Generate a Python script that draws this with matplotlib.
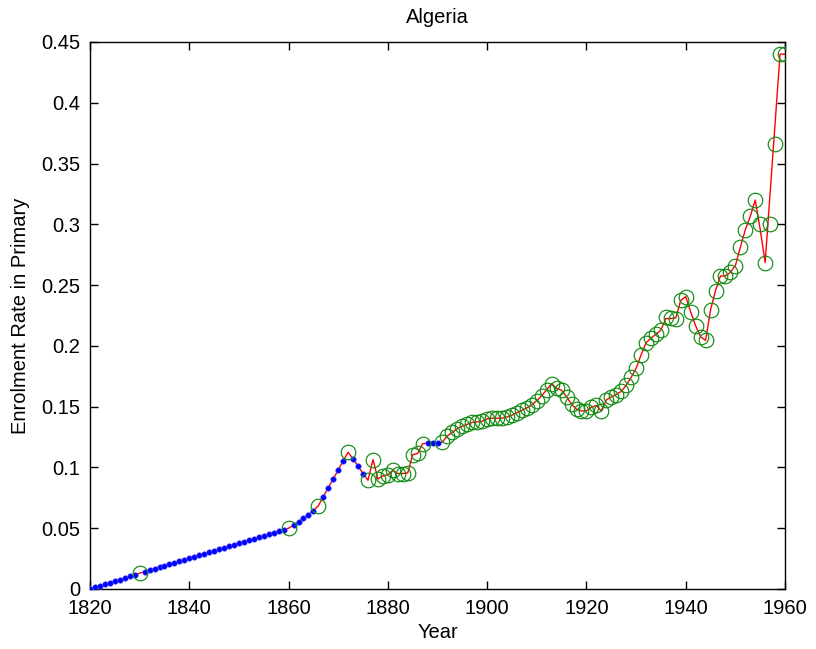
import matplotlib
matplotlib.use("Agg")
import matplotlib.pyplot as plt
import numpy as np

plt.rcParams['font.family'] = ['Liberation Sans', 'DejaVu Sans']

title = "Algeria"
xlabel = "Year"
ylabel = "Enrolment Rate in Primary"

years = list(range(1820, 1961))

# Full (interpolated) series drawn as the red line
rate_line = [
    0.0000, 0.0013, 0.0026, 0.0039, 0.0052, 0.0065, 0.0078, 0.0091, 0.0104, 0.0117,
    0.0130, 0.0142, 0.0155, 0.0167, 0.0179, 0.0191, 0.0204, 0.0216, 0.0228, 0.0241,
    0.0253, 0.0265, 0.0278, 0.0290, 0.0302, 0.0314, 0.0327, 0.0339, 0.0351, 0.0364,
    0.0376, 0.0388, 0.0401, 0.0413, 0.0425, 0.0437, 0.0450, 0.0462, 0.0474, 0.0487,
    0.0500, 0.0525, 0.0553, 0.0582, 0.0612, 0.0645, 0.0685, 0.0760, 0.0835, 0.0905,
    0.0980, 0.1055, 0.1125, 0.1070, 0.1010, 0.0950, 0.0895, 0.1065, 0.0905, 0.0930,
    0.0940, 0.0975, 0.0950, 0.0950, 0.0955, 0.1105, 0.1115, 0.1195, 0.1200, 0.1200,
    0.1200, 0.1210, 0.1260, 0.1290, 0.1320, 0.1340, 0.1355, 0.1370, 0.1375, 0.1380,
    0.1400, 0.1405, 0.1405, 0.1405, 0.1415, 0.1430, 0.1450, 0.1470, 0.1490, 0.1515,
    0.1550, 0.1590, 0.1640, 0.1690, 0.1650, 0.1635, 0.1580, 0.1520, 0.1480, 0.1465,
    0.1465, 0.1495, 0.1510, 0.1465, 0.1555, 0.1580, 0.1600, 0.1625, 0.1675, 0.1740,
    0.1815, 0.1925, 0.2025, 0.2065, 0.2095, 0.2130, 0.2225, 0.2225, 0.2230, 0.2375,
    0.2405, 0.2280, 0.2165, 0.2075, 0.2045, 0.2295, 0.2455, 0.2575, 0.2575, 0.2605,
    0.2660, 0.2810, 0.2955, 0.3065, 0.3200, 0.2960, 0.2685, 0.3255, 0.3830, 0.4400,
    0.4400,
]

# Observed data points (green circles)
obs_years = [1830, 1860, 1866, 1872] + list(range(1876, 1888)) + list(range(1891, 1961))
obs_rate = [
    0.0130, 0.0500, 0.0685, 0.1125,
    0.0895, 0.1065, 0.0905, 0.0930, 0.0940, 0.0975, 0.0950, 0.0950, 0.0955, 0.1105,
    0.1115, 0.1195,
    0.1210, 0.1260, 0.1290, 0.1320, 0.1340, 0.1355, 0.1370, 0.1375, 0.1380, 0.1400,
    0.1405, 0.1405, 0.1405, 0.1415, 0.1430, 0.1450, 0.1470, 0.1490, 0.1515, 0.1550,
    0.1590, 0.1640, 0.1690, 0.1650, 0.1635, 0.1580, 0.1520, 0.1480, 0.1465, 0.1465,
    0.1495, 0.1510, 0.1465, 0.1555, 0.1580, 0.1600, 0.1625, 0.1675, 0.1740, 0.1815,
    0.1925, 0.2025, 0.2065, 0.2095, 0.2130, 0.2240, 0.2230, 0.2225, 0.2375, 0.2405,
    0.2280, 0.2165, 0.2075, 0.2045, 0.2295, 0.2455, 0.2575, 0.2575, 0.2605, 0.2660,
    0.2810, 0.2955, 0.3065, 0.3200, 0.3000, 0.2685, 0.3000, 0.3660, 0.4400, 0.4400,
]

xticks = [1820, 1840, 1860, 1880, 1900, 1920, 1940, 1960]
yticks = [0, 0.05, 0.1, 0.15, 0.2, 0.25, 0.3, 0.35, 0.4, 0.45]
ytick_labels = ["0", "0.05", "0.1", "0.15", "0.2", "0.25", "0.3", "0.35", "0.4", "0.45"]

fig = plt.figure(figsize=(8.16, 6.49), dpi=100)
ax = fig.add_axes([90 / 816, 60 / 649, 695 / 816, 547 / 649])

obs_set = set(obs_years)
interp_idx = [i for i, y in enumerate(years) if y not in obs_set]
interp_x = [years[i] for i in interp_idx]
interp_y = [rate_line[i] for i in interp_idx]

ax.plot(years, rate_line, color='red', linewidth=1.0, zorder=2)
ax.plot(interp_x, interp_y, linestyle='none', marker='o', markersize=4.0,
        markerfacecolor='blue', markeredgecolor='#5a5aff', markeredgewidth=0.4, zorder=3)
ax.plot(obs_years, obs_rate, linestyle='none', marker='o', markersize=10.5,
        markerfacecolor='none', markeredgecolor='#118a11', markeredgewidth=0.85, zorder=4)

ax.set_xlim(1820, 1960)
ax.set_ylim(0, 0.45)
ax.set_xticks(xticks)
ax.set_xticklabels([str(x) for x in xticks])
ax.set_yticks(yticks)
ax.set_yticklabels(ytick_labels)
ax.tick_params(axis='x', pad=7)
ax.tick_params(axis='y', pad=7)
ax.tick_params(direction='in', length=6, width=1.0, labelsize=14.5, top=True, right=True)
for s in ax.spines.values():
    s.set_linewidth(1.0)

ax.set_title(title, fontsize=14.5, pad=14)
ax.set_xlabel(xlabel, fontsize=14.5, labelpad=4)
ax.set_ylabel(ylabel, fontsize=14.5, labelpad=8)

fig.savefig("out.png", dpi=100)
